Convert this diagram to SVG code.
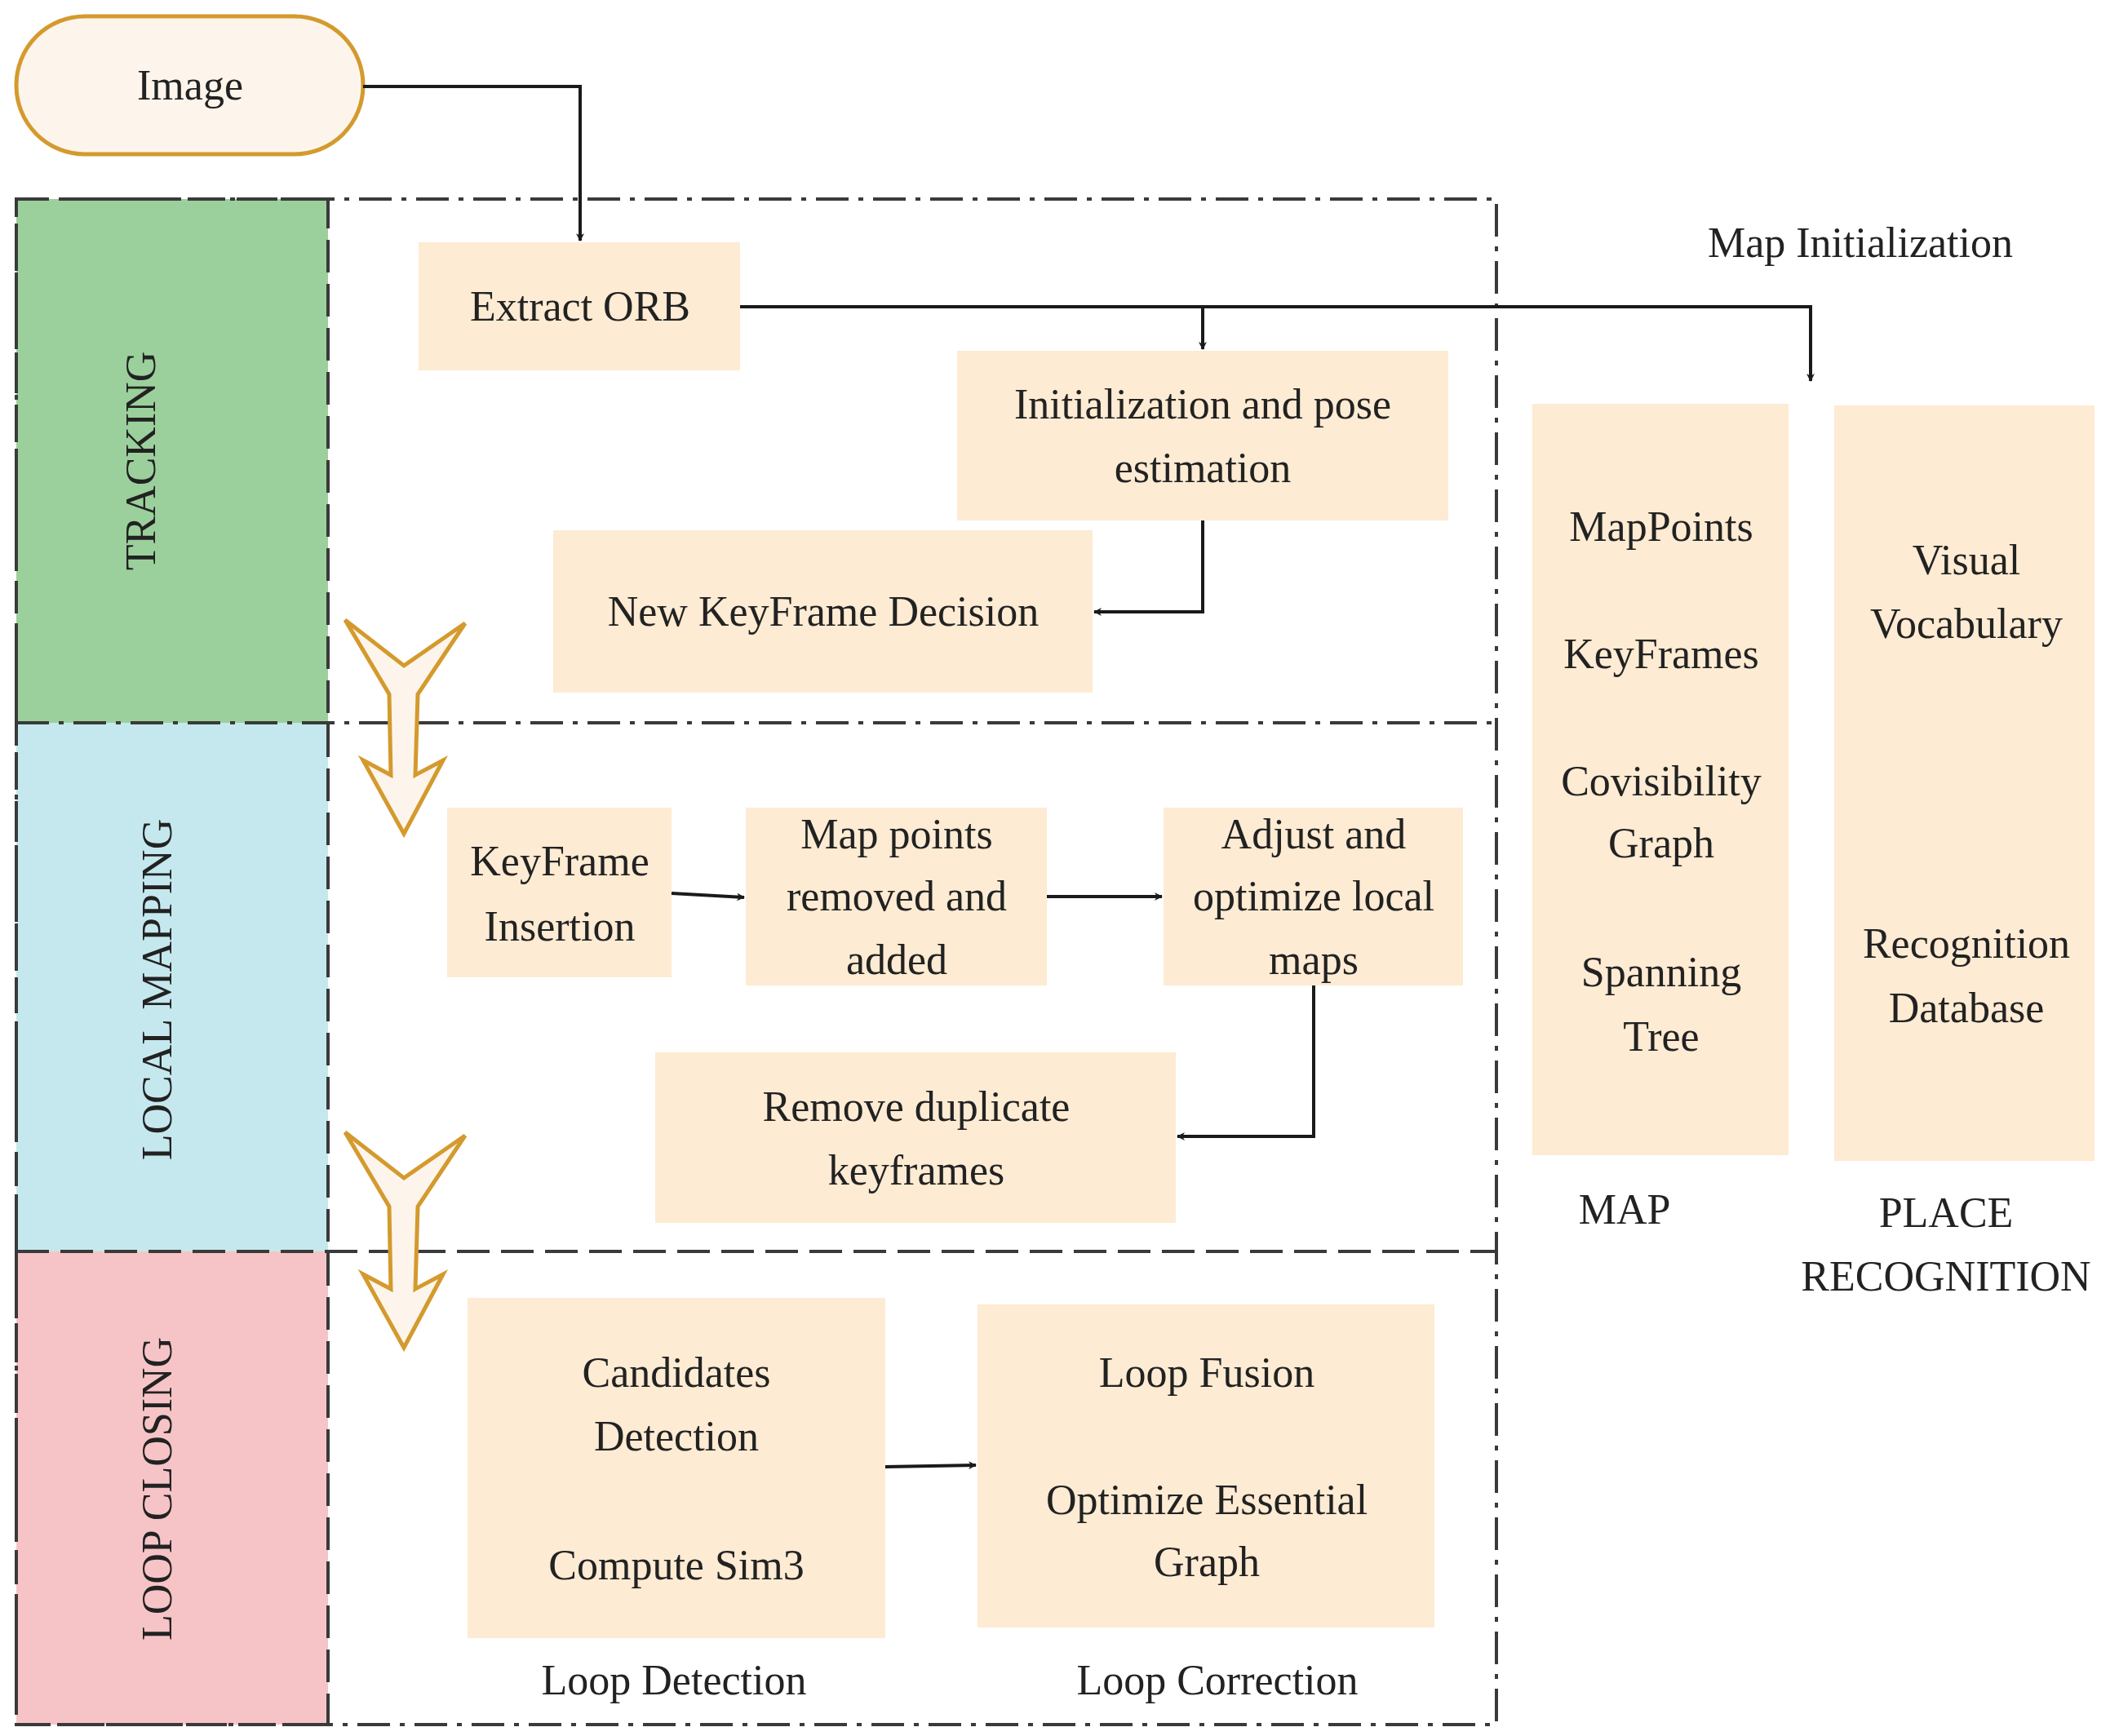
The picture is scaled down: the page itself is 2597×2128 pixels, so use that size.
<svg xmlns="http://www.w3.org/2000/svg" width="2597" height="2128" viewBox="0 0 2597 2128">
<defs>
<style>
text{font-family:"Liberation Serif",serif;font-size:52px;fill:#222;text-anchor:middle}
.box{fill:#FDEBD3}
.frame{fill:none;stroke:#3a3a3a;stroke-width:4;stroke-dasharray:40 12 6 12}
.dash{fill:none;stroke:#3a3a3a;stroke-width:4;stroke-dasharray:40 14}
.conn{fill:none;stroke:#1a1a1a;stroke-width:4}
.big{fill:#FDF5EC;stroke:#D49A2E;stroke-width:5;stroke-linejoin:miter}
</style>
<marker id="ah" markerWidth="10" markerHeight="10" refX="9" refY="5" orient="auto" markerUnits="userSpaceOnUse" viewBox="0 0 10 10"><path d="M0,0 L10,5 L0,10 L3,5 Z" fill="#1a1a1a"/></marker>
</defs>
<rect width="2597" height="2128" fill="#fff"/>
<g id="lanes">
<rect x="20" y="244" width="382" height="642" fill="#9BD09C"/>
<rect x="20" y="886" width="382" height="648" fill="#C5E8EE"/>
<rect x="20" y="1534" width="382" height="580" fill="#F6C4C7"/>
<rect x="20" y="244" width="382" height="1870" class="dash"/>
<rect x="20" y="244" width="1814" height="1870" class="frame"/>
<line x1="20" y1="886" x2="1834" y2="886" class="frame"/>
<line x1="20" y1="1534" x2="1834" y2="1534" class="dash"/>
<text transform="translate(190,565) rotate(-90)">TRACKING</text>
<text transform="translate(210,1213) rotate(-90)">LOCAL MAPPING</text>
<text transform="translate(210,1825) rotate(-90)">LOOP CLOSING</text>
</g>
<g id="image"><rect x="20" y="20" width="425" height="169" rx="84" fill="#FDF5EC" stroke="#D49A2E" stroke-width="5"/><text x="233" y="122">Image</text></g>
<g id="extract"><rect class="box" x="513" y="297" width="394" height="157"/><text x="711" y="393">Extract ORB</text></g>
<g id="init"><rect class="box" x="1173" y="430" width="602" height="208"/><text x="1474" y="513">Initialization and pose</text><text x="1474" y="591">estimation</text></g>
<g id="newkf"><rect class="box" x="678" y="650" width="661" height="199"/><text x="1009" y="767">New KeyFrame Decision</text></g>
<g id="kfins"><rect class="box" x="548" y="990" width="275" height="208"/><text x="686" y="1073">KeyFrame</text><text x="686" y="1153">Insertion</text></g>
<g id="mappts"><rect class="box" x="914" y="990" width="369" height="218"/><text x="1099" y="1040">Map points</text><text x="1099" y="1116">removed and</text><text x="1099" y="1194">added</text></g>
<g id="adjust"><rect class="box" x="1426" y="990" width="367" height="218"/><text x="1610" y="1040">Adjust and</text><text x="1610" y="1116">optimize local</text><text x="1610" y="1194">maps</text></g>
<g id="remove"><rect class="box" x="803" y="1290" width="638" height="209"/><text x="1123" y="1374">Remove duplicate</text><text x="1123" y="1452">keyframes</text></g>
<g id="cand"><rect class="box" x="573" y="1591" width="512" height="417"/><text x="829" y="1700">Candidates</text><text x="829" y="1778">Detection</text><text x="829" y="1936">Compute Sim3</text></g>
<g id="fusion"><rect class="box" x="1198" y="1599" width="560" height="396"/><text x="1479" y="1700">Loop Fusion</text><text x="1479" y="1856">Optimize Essential</text><text x="1479" y="1932">Graph</text></g>
<g id="map"><rect class="box" x="1878" y="495" width="314" height="921"/><text x="2036" y="663">MapPoints</text><text x="2036" y="819">KeyFrames</text><text x="2036" y="975">Covisibility</text><text x="2036" y="1051">Graph</text><text x="2036" y="1209">Spanning</text><text x="2036" y="1288">Tree</text></g>
<g id="place"><rect class="box" x="2248" y="497" width="319" height="926"/><text x="2410" y="704">Visual</text><text x="2410" y="782">Vocabulary</text><text x="2410" y="1174">Recognition</text><text x="2410" y="1253">Database</text></g>
<g id="labels">
<text x="826" y="2077">Loop Detection</text>
<text x="1492" y="2077">Loop Correction</text>
<text x="1991" y="1500">MAP</text>
<text x="2385" y="1504">PLACE</text>
<text x="2385" y="1582">RECOGNITION</text>
<text x="2280" y="315">Map Initialization</text>
</g>
<g id="connectors">
<path class="conn" d="M445,106 H711 V295" marker-end="url(#ah)"/>
<path class="conn" d="M907,376 H2219 V467" marker-end="url(#ah)"/>
<path class="conn" d="M1474,376 V428" marker-end="url(#ah)"/>
<path class="conn" d="M1474,638 V750 H1341" marker-end="url(#ah)"/>
<path class="conn" d="M823,1095 L912,1100" marker-end="url(#ah)"/>
<path class="conn" d="M1283,1099 H1424" marker-end="url(#ah)"/>
<path class="conn" d="M1610,1208 V1393 H1443" marker-end="url(#ah)"/>
<path class="conn" d="M1085,1798 L1196,1796" marker-end="url(#ah)"/>
<path class="big" d="M423,760 L495,816 L570,764 L512,851 L509,950 L543,932 L495,1022 L445,932 L479,950 L477,851 Z"/>
<path class="big" d="M423,1388 L495,1444 L570,1392 L512,1479 L509,1580 L543,1562 L495,1652 L445,1562 L479,1580 L477,1479 Z"/>
</g>
</svg>
